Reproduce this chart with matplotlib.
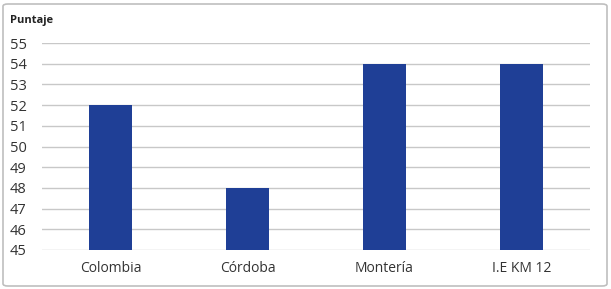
import matplotlib
matplotlib.use("Agg")
import matplotlib.pyplot as plt
from matplotlib.patches import FancyBboxPatch

categorias = ["Colombia", "Córdoba", "Montería", "I.E KM 12"]
puntajes = [52, 48, 54, 54]
ticks_y = [45, 46, 47, 48, 49, 50, 51, 52, 53, 54, 55]

plt.rcParams['font.family'] = ['Open Sans', 'DejaVu Sans']

fig = plt.figure(figsize=(6.11, 2.89), dpi=100)
ax = fig.add_axes([0.0687, 0.135, 0.8969, 0.716])

base = 45
ax.bar(range(len(categorias)), [p - base for p in puntajes], bottom=base,
       width=0.31, color="#1f3f96", zorder=3)

ax.set_xlim(-0.5, len(categorias) - 0.5)
ax.set_ylim(45, 55)
ax.set_yticks(ticks_y)
ax.set_xticks(range(len(categorias)))
ax.set_xticklabels(categorias, fontsize=10, color="#333333")
ax.tick_params(axis='y', labelsize=10.5, colors="#333333", length=0, pad=11)
ax.tick_params(axis='x', length=0, pad=8)
ax.grid(axis='y', color="#c8c8c8", linewidth=1, zorder=0)
for s in ax.spines.values():
    s.set_visible(False)

fig.text(10 / 611, 1 - 20 / 289, "Puntaje", fontsize=8, fontweight='bold',
         color="#222222", va='center', ha='left')

borde = FancyBboxPatch((3 / 611, 3 / 289), 604 / 611, 282 / 289,
                       boxstyle="round,pad=0,rounding_size=0.008",
                       transform=fig.transFigure, fill=False,
                       edgecolor="#bfbfbf", linewidth=1.2)
fig.patches.append(borde)

fig.savefig("out.png", dpi=100)
